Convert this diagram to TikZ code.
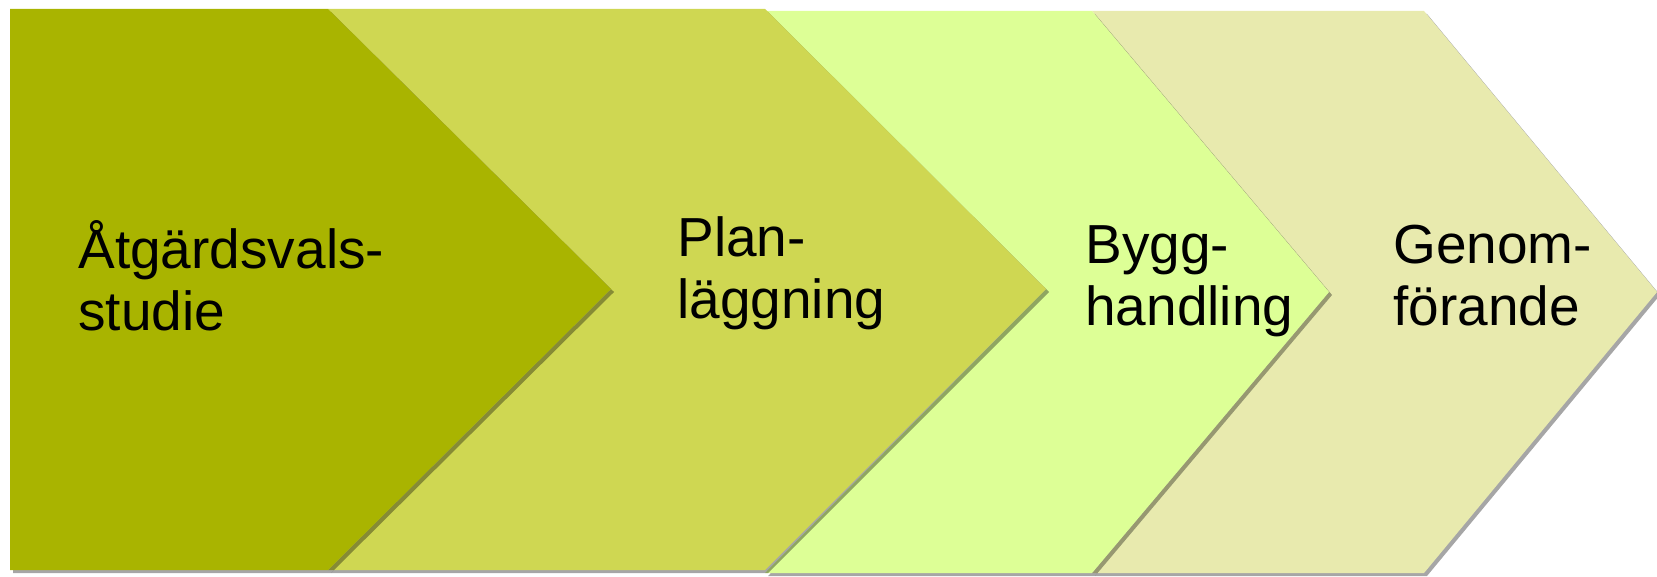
\documentclass[tikz,border=0pt]{standalone}
\usepackage{fontspec}
\setmainfont{Liberation Sans}
\usetikzlibrary{shadows}
\definecolor{stepa}{RGB}{169,180,0}
\definecolor{stepb}{RGB}{207,215,82}
\definecolor{stepc}{RGB}{221,255,150}
\definecolor{stepd}{RGB}{232,234,174}
\begin{document}
\begin{tikzpicture}[x=0.5pt, y=-0.5pt]
	\tikzstyle{chevron} = [ draw=none, drop shadow={shadow xshift=1.5pt, shadow yshift=-1.5pt, opacity=0.35, fill=black} ];
	\tikzstyle{label} = [ anchor=base west, align=left, inner sep=0pt, text=black, font={\fontsize{27.5}{31}\selectfont} ];

	\useasboundingbox (0,0) rectangle (1657,577);

	% stages, right to left so that each one lies over the next
	\fill[chevron, stepd] (1092,11) -- (1424,11) -- (1657,292) -- (1424,573) -- (1092,573) -- (1329,292) -- cycle;
	\fill[chevron, stepc] (765,11) -- (1092,11) -- (1329,292) -- (1092,573) -- (765,573) -- (1046,289) -- cycle;
	\fill[chevron, stepb] (328,9) -- (765,9) -- (1046,289) -- (765,570) -- (328,570) -- (611,289) -- cycle;
	\fill[chevron, stepa] (10,9) -- (328,9) -- (611,289) -- (328,570) -- (10,570) -- cycle;

	% labels, placed at the baseline of their last line
	\foreach \name/\x/\y/\txt in {study/78/330/{Åtgärdsvals-\\studie}, planning/677/318/{Plan-\\läggning}, build/1085/325/{Bygg-\\handling}, execution/1393/325/{Genom-\\förande}} {
		\node[label] (\name) at (\x,\y) {\txt};
	}

\end{tikzpicture}
\end{document}
